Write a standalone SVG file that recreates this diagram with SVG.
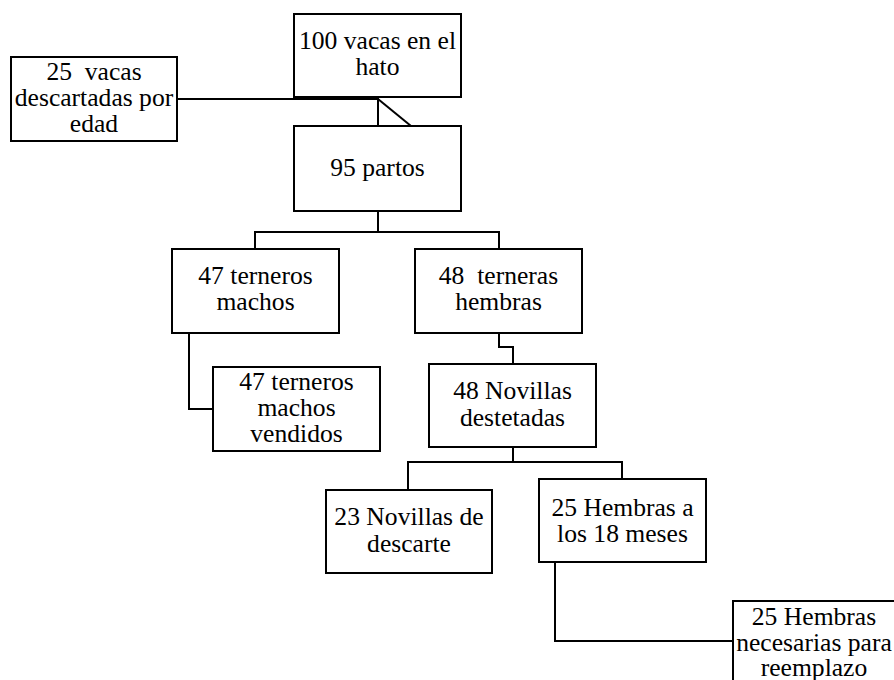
<svg xmlns="http://www.w3.org/2000/svg" width="894" height="680" viewBox="0 0 894 680">
<style>
rect{fill:#fff;stroke:#000;stroke-width:2}
text{font-family:"Liberation Serif","Times New Roman","DejaVu Serif",serif;font-size:25.6px;fill:#000;text-anchor:middle;white-space:pre}
#connectors path{fill:none;stroke:#000;stroke-width:2}
</style>
<rect x="0" y="0" width="894" height="680" style="stroke:none"/>
<g id="connectors">
<path d="M177,99 H378 V126"/>
<path d="M378,99 L411,126"/>
<path d="M378,211 V232 M255,249 V232 H499 V249"/>
<path d="M189,333 V409 H213"/>
<path d="M499,333 V347 H513 V364"/>
<path d="M513,447 V462 M408,490 V462 H622 V479"/>
<path d="M555,562 V641 H733"/>
</g>
<g id="n100"><rect x="294" y="14" width="167" height="83"/><text x="377.5" y="49">100 vacas en el</text><text x="377.5" y="75">hato</text></g>
<g id="n25vacas"><rect x="11" y="57" width="166" height="84"/><text x="94" y="80">25  vacas</text><text x="94" y="106">descartadas por</text><text x="94" y="132">edad</text></g>
<g id="n95"><rect x="294" y="126" width="167" height="85"/><text x="377.5" y="176">95 partos</text></g>
<g id="n47m"><rect x="172" y="249" width="167" height="84"/><text x="255.5" y="284">47 terneros</text><text x="255.5" y="310">machos</text></g>
<g id="n48h"><rect x="415" y="249" width="167" height="84"/><text x="498.5" y="284">48  terneras</text><text x="498.5" y="310">hembras</text></g>
<g id="n47v"><rect x="213" y="367" width="167" height="84"/><text x="296.5" y="390">47 terneros</text><text x="296.5" y="416">machos</text><text x="296.5" y="442">vendidos</text></g>
<g id="n48n"><rect x="429" y="364" width="167" height="83"/><text x="512.5" y="399">48 Novillas</text><text x="512.5" y="426">destetadas</text></g>
<g id="n23"><rect x="326" y="490" width="166" height="83"/><text x="409" y="525">23 Novillas de</text><text x="409" y="552">descarte</text></g>
<g id="n25h18"><rect x="539" y="479" width="167" height="83"/><text x="622.5" y="516">25 Hembras a</text><text x="622.5" y="542">los 18 meses</text></g>
<g id="n25nec"><rect x="733" y="601" width="167" height="90"/><text x="814" y="625">25 Hembras</text><text x="814" y="651">necesarias para</text><text x="814" y="676">reemplazo</text></g>
</svg>
